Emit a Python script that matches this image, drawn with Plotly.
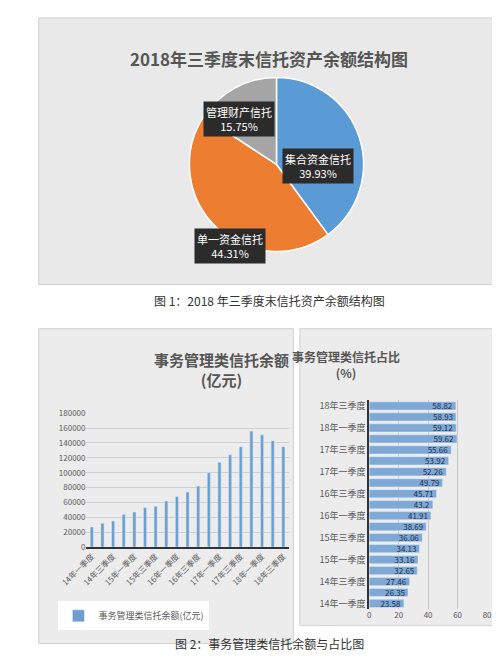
import plotly.graph_objects as go

# pie data
pie_labels = ["集合资金信托", "单一资金信托", "管理财产信托"]
pie_values = [39.93, 44.31, 15.75]
pie_colors = ["#5B9BD5", "#ED7D31", "#A5A5A5"]

# quarters
quarters = []
for yr in ["14", "15", "16", "17", "18"]:
    for q in ["一", "二", "三", "四"]:
        quarters.append(yr + "年" + q + "季度")
quarters = quarters[:19]

balance = [27000, 32000, 35000, 44000, 47000, 53000, 55000, 62000, 68000, 74000,
           82000, 100000, 114000, 124000, 135000, 156000, 151000, 143000, 135000]
ratio = [23.58, 26.35, 27.46, 32.65, 33.16, 34.13, 36.06, 38.69, 41.91, 43.2,
         45.71, 49.79, 52.26, 53.92, 55.66, 59.62, 59.12, 58.93, 58.82]

W, H = 500, 663
def py(y):
    return 1 - y / H
def px(x):
    return x / W

FONT = "Noto Sans CJK SC"
fig = go.Figure()

fig.add_trace(go.Pie(labels=pie_labels, values=pie_values, sort=False, direction="clockwise",
                     rotation=0, marker=dict(colors=pie_colors, line=dict(color="white", width=1.5)),
                     textinfo="none", hoverinfo="label+percent", showlegend=False,
                     domain=dict(x=[px(165), px(351)], y=[py(246), py(60)])))

fig.add_trace(go.Bar(x=quarters, y=balance, marker_color="#6C9FCF", width=0.3,
                     name="事务管理类信托余额(亿元)", xaxis="x", yaxis="y"))

fig.add_trace(go.Bar(y=quarters, x=ratio, orientation="h", marker_color="#7EA9D6",
                     text=[str(v) for v in ratio], textposition="inside", insidetextanchor="end",
                     textfont=dict(color="#1F2D4D", size=8, family=FONT), width=0.75,
                     showlegend=False, xaxis="x2", yaxis="y2"))

shapes = [
    dict(type="rect", xref="paper", yref="paper", x0=px(4), x1=px(496), y0=py(275), y1=py(4),
         fillcolor="#E9E9E9", line=dict(color="#D0D0D0", width=1), layer="below"),
    dict(type="rect", xref="paper", yref="paper", x0=px(4), x1=px(276), y0=py(640), y1=py(320),
         fillcolor="#ECECEC", line=dict(color="#D0D0D0", width=1), layer="below"),
    dict(type="rect", xref="paper", yref="paper", x0=px(283), x1=px(496), y0=py(622), y1=py(320),
         fillcolor="#ECECEC", line=dict(color="#D0D0D0", width=1), layer="below"),
]

def box(text, x, y):
    return dict(text=text, x=px(x), y=py(y), xref="paper", yref="paper", showarrow=False,
                font=dict(color="white", size=11, family=FONT), bgcolor="#2B2B2B",
                borderpad=2, align="center")

annotations = [
    dict(text="<b>2018年三季度末信托资产余额结构图</b>", x=0.5, y=py(30), xref="paper", yref="paper",
         showarrow=False, font=dict(size=17, color="#555555", family=FONT)),
    box("管理财产信托<br>15.75%", 218, 88),
    box("集合资金信托<br>39.93%", 302, 136),
    box("单一资金信托<br>44.31%", 208, 218),
    dict(text="图 1：2018 年三季度末信托资产余额结构图", x=0.5, y=py(291), xref="paper", yref="paper",
         showarrow=False, font=dict(size=12, color="#333333", family=FONT)),
    dict(text="<b>事务管理类信托余额<br>(亿元)</b>", x=px(125), y=py(362), xref="paper", yref="paper",
         showarrow=False, font=dict(size=15, color="#555555", family=FONT)),
    dict(text="<b>事务管理类信托占比<br>(%)</b>", x=px(392), y=py(356), xref="paper", yref="paper",
         showarrow=False, font=dict(size=12, color="#555555", family=FONT)),
    dict(text="图 2：事务管理类信托余额与占比图", x=0.5, y=py(651), xref="paper", yref="paper",
         showarrow=False, font=dict(size=12, color="#333333", family=FONT)),
]

fig.update_layout(
    width=W, height=H, margin=dict(l=0, r=0, t=0, b=0),
    paper_bgcolor="white", plot_bgcolor="rgba(0,0,0,0)",
    font=dict(family=FONT, color="#595959", size=9),
    shapes=shapes, annotations=annotations, bargap=0.5,
    uniformtext=dict(minsize=8, mode="show"),
    xaxis=dict(domain=[px(55), px(271)], anchor="y", tickangle=-45, tickfont=dict(size=8),
               tickvals=quarters[::2], showline=True, linecolor="#333333", linewidth=1.5),
    yaxis=dict(domain=[py(542), py(406)], anchor="x", range=[0, 180000], dtick=20000,
               tickformat="d", gridcolor="#CFCFCF", tickfont=dict(size=8), zeroline=False),
    xaxis2=dict(domain=[px(357), px(483)], anchor="y2", range=[0, 80], dtick=20,
                gridcolor="#C8C8C8", tickfont=dict(size=8), zeroline=False),
    yaxis2=dict(domain=[py(605), py(393)], anchor="x2", tickvals=quarters[::2],
                tickfont=dict(size=9), showline=True, linecolor="#333333", linewidth=1.5,
                categoryorder="array", categoryarray=quarters),
    legend=dict(x=px(25), y=py(612), xanchor="left", yanchor="middle", bgcolor="white",
                font=dict(size=9), borderwidth=0, itemwidth=30),
)

fig.write_html("out.html")
